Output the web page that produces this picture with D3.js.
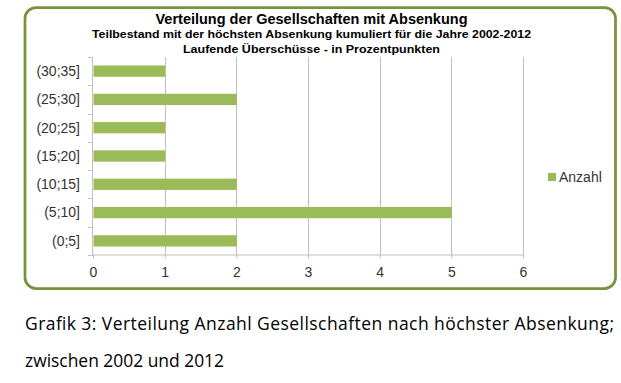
<!DOCTYPE html>
<html>
<head>
<meta charset="utf-8">
<script src="https://cdn.jsdelivr.net/npm/d3@7"></script>
<style>
html,body{margin:0;padding:0;background:#fff;}
svg{display:block;}
</style>
</head>
<body>
<svg id="chart" width="621" height="383"></svg>
<script>
const categories = ["(30;35]", "(25;30]", "(20;25]", "(15;20]", "(10;15]", "(5;10]", "(0;5]"];
const anzahl = [1, 2, 1, 1, 2, 5, 2];
const xTicks = [0, 1, 2, 3, 4, 5, 6];
const seriesName = "Anzahl";
const titleLines = [
  "Verteilung der Gesellschaften mit Absenkung",
  "Teilbestand mit der höchsten Absenkung kumuliert für die Jahre 2002-2012",
  "Laufende Überschüsse -  in Prozentpunkten"
];
const captionLines = [
  "Grafik 3: Verteilung Anzahl Gesellschaften nach höchster Absenkung;",
  "zwischen 2002 und 2012"
];

const svg = d3.select("#chart");
const green = "#9BBB59";
const frameGreen = "#77933C";
const axisColor = "#333333";
const font = "Arial, 'Liberation Sans', sans-serif";

// frame
svg.append("rect")
  .attr("x", 25).attr("y", 7.5)
  .attr("width", 590.5).attr("height", 281)
  .attr("rx", 11).attr("ry", 11)
  .attr("fill", "#fff")
  .attr("stroke", frameGreen)
  .attr("stroke-width", 2.75);

// titles
const titleSpecs = [
  {y: 24, size: 14.5, len: 312},
  {y: 37.5, size: 11.5, len: 439},
  {y: 53, size: 11.5, len: 257}
];
titleLines.forEach((t, i) => {
  svg.append("text")
    .attr("x", 311.5).attr("y", titleSpecs[i].y)
    .attr("text-anchor", "middle")
    .attr("font-family", font)
    .attr("font-weight", "bold")
    .attr("font-size", titleSpecs[i].size)
    .attr("fill", "#000")
    .attr("textLength", titleSpecs[i].len)
    .attr("lengthAdjust", "spacingAndGlyphs")
    .text(t);
});

// scales
const x = d3.scaleLinear().domain([0, 6]).range([93, 523]);
const y = d3.scaleBand().domain(categories).range([57, 255]).paddingInner(0.6).paddingOuter(0.3);

// grid lines
svg.append("g")
  .selectAll("line")
  .data(xTicks.filter(d => d > 0))
  .join("line")
  .attr("x1", d => Math.round(x(d)) + 0.5).attr("x2", d => Math.round(x(d)) + 0.5)
  .attr("y1", 57).attr("y2", 255)
  .attr("stroke", "#c0c0c0").attr("stroke-width", 1);

// bars
svg.append("g")
  .selectAll("rect")
  .data(categories.map((c, i) => ({c, v: anzahl[i]})))
  .join("rect")
  .attr("x", x(0) + 0.5)
  .attr("y", d => y(d.c))
  .attr("width", d => x(d.v) - x(0))
  .attr("height", y.bandwidth())
  .attr("fill", green);

// x axis
const xAxis = d3.axisBottom(x).tickValues(xTicks).tickFormat(d3.format("d")).tickSize(4).tickPadding(9).tickSizeOuter(0);
const gx = svg.append("g").attr("transform", "translate(0,254.5)").call(xAxis);
gx.select(".domain").attr("stroke", "#c0c0c0");
gx.selectAll(".tick line").attr("stroke", "#c0c0c0");
gx.selectAll(".tick text").attr("font-family", font).attr("font-size", 14).attr("fill", axisColor);

// y axis: line + ticks at band boundaries
const gy = svg.append("g");
gy.append("line")
  .attr("x1", 92.5).attr("x2", 92.5).attr("y1", 57).attr("y2", 255)
  .attr("stroke", "#c0c0c0");
const boundaries = categories.map(c => y(c) - y.step() * y.paddingOuter()).concat([255]);
gy.selectAll("line.tk")
  .data(boundaries)
  .join("line")
  .attr("class", "tk")
  .attr("x1", 88).attr("x2", 93)
  .attr("y1", d => Math.round(d) + 0.5).attr("y2", d => Math.round(d) + 0.5)
  .attr("stroke", "#c0c0c0");
gy.selectAll("text")
  .data(categories)
  .join("text")
  .attr("x", 80)
  .attr("y", d => y(d) + y.bandwidth() / 2)
  .attr("dy", "0.35em")
  .attr("text-anchor", "end")
  .attr("font-family", font).attr("font-size", 14)
  .attr("fill", axisColor)
  .text(d => d);

// legend
svg.append("rect").attr("x", 548).attr("y", 173).attr("width", 8).attr("height", 8).attr("fill", green);
svg.append("text").attr("x", 559).attr("y", 181.5)
  .attr("font-family", font).attr("font-size", 14).attr("fill", axisColor)
  .text(seriesName);

// caption
const capSpecs = [{y: 330, len: 589}, {y: 367, len: 199}];
captionLines.forEach((t, i) => {
  svg.append("text")
    .attr("x", 25).attr("y", capSpecs[i].y)
    .attr("font-family", "'Open Sans', 'Noto Sans', sans-serif")
    .attr("font-size", 17.5)
    .attr("fill", "#000")
    .attr("textLength", capSpecs[i].len)
    .attr("lengthAdjust", i === 0 ? "spacing" : "spacingAndGlyphs")
    .text(t);
});
</script>
</body>
</html>
